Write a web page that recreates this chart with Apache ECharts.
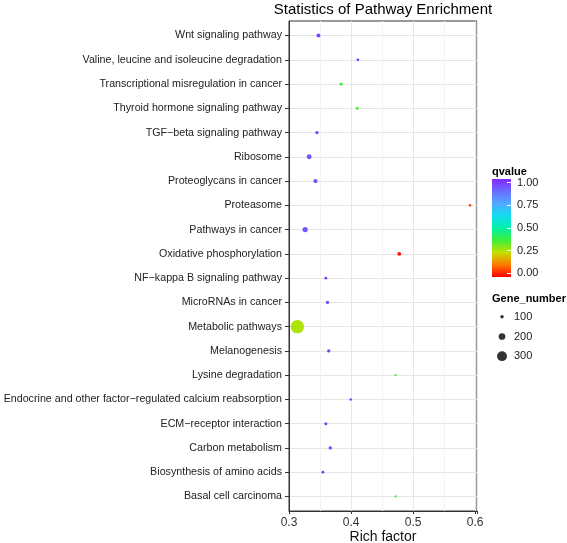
<!DOCTYPE html>
<html>
<head>
<meta charset="utf-8">
<script src="https://cdn.jsdelivr.net/npm/echarts@6/dist/echarts.min.js"></script>
<style>
html,body{margin:0;padding:0;background:#fff;}
#main{width:567px;height:543px;}
</style>
</head>
<body>
<div id="main"></div>
<script>
// ---- data ----
var pathways = [
  'Wnt signaling pathway',
  'Valine, leucine and isoleucine degradation',
  'Transcriptional misregulation in cancer',
  'Thyroid hormone signaling pathway',
  'TGF\u2212beta signaling pathway',
  'Ribosome',
  'Proteoglycans in cancer',
  'Proteasome',
  'Pathways in cancer',
  'Oxidative phosphorylation',
  'NF\u2212kappa B signaling pathway',
  'MicroRNAs in cancer',
  'Metabolic pathways',
  'Melanogenesis',
  'Lysine degradation',
  'Endocrine and other factor\u2212regulated calcium reabsorption',
  'ECM\u2212receptor interaction',
  'Carbon metabolism',
  'Biosynthesis of amino acids',
  'Basal cell carcinoma'
];
var richFactor = [0.3475, 0.411, 0.384, 0.410, 0.345, 0.3325, 0.3427, 0.5917, 0.326, 0.4777,
                  0.3594, 0.362, 0.3135, 0.364, 0.4718, 0.3994, 0.3594, 0.3665, 0.3546, 0.4718];
var qvalue = [0.95, 0.97, 0.38, 0.36, 0.95, 0.92, 0.92, 0.08, 0.92, 0.02,
              0.97, 0.93, 0.27, 0.96, 0.38, 0.97, 0.97, 0.95, 0.97, 0.38];
var geneNumber = [115, 75, 95, 85, 95, 145, 125, 70, 155, 115,
                  78, 95, 410, 95, 60, 70, 85, 95, 78, 60];
var xTicks = [0.3, 0.4, 0.5, 0.6];
var qTicks = [0, 0.25, 0.5, 0.75, 1];
var sizeLegend = [100, 200, 300];

// ---- styles ----
var rampColors = ['#ff0000', '#ff7a00', '#c4e000', '#3cf03c', '#00f0a8', '#12dcf0', '#50aaff', '#6a6cff', '#8428ff'];
function sizeOf(n) { return Math.max(2.2, 0.032 * n + 0.3); }

var points = pathways.map(function (p, i) {
  return [richFactor[i], i, qvalue[i], geneNumber[i]];
});

var gradStops = rampColors.map(function (c, i) {
  return { offset: 1 - i / (rampColors.length - 1), color: c };
});

var chart = echarts.init(document.getElementById('main'), null, { renderer: 'canvas' });
var FONT = 'Liberation Sans, Arial, sans-serif';
var catIdx = pathways.map(function (p, i) { return i; });

chart.setOption({
  animation: false,
  backgroundColor: '#ffffff',
  textStyle: { fontFamily: FONT },
  title: [
    { text: 'Statistics of Pathway Enrichment', left: 383, top: 2, textAlign: 'center', padding: 0,
      textStyle: { fontSize: 15, fontWeight: 'normal', color: '#000', fontFamily: FONT } },
    { text: 'qvalue', left: 492, top: 166, padding: 0,
      textStyle: { fontSize: 11, fontWeight: 'bold', color: '#000', fontFamily: FONT } },
    { text: 'Gene_number', left: 492, top: 293, padding: 0,
      textStyle: { fontSize: 11, fontWeight: 'bold', color: '#000', fontFamily: FONT, width: 90, overflow: 'none' } }
  ],
  grid: [
    { left: 289, right: 90, top: 21, bottom: 32, show: true, borderColor: '#333', borderWidth: 1,
      backgroundColor: '#fff', outerBoundsMode: 'none', containLabel: false },
    { left: 492, top: 179, width: 19, height: 98, show: true, borderWidth: 0, outerBoundsMode: 'none',
      backgroundColor: new echarts.graphic.LinearGradient(0, 0, 0, 1, gradStops) },
    { left: 497, top: 307, width: 10, height: 59, outerBoundsMode: 'none' }
  ],
  xAxis: [
    { type: 'value', gridIndex: 0, min: 0.3, max: 0.603, interval: 0.1,
      name: 'Rich factor', nameLocation: 'middle', nameGap: 19, nameMoveOverlap: false,
      nameTextStyle: { fontSize: 14, color: '#111', fontFamily: FONT, verticalAlign: 'top' },
      axisLine: { show: true, onZero: false, lineStyle: { color: '#333', width: 1 } },
      axisTick: { show: true, length: 3, lineStyle: { color: '#333' } },
      axisLabel: { fontSize: 12, color: '#333', margin: 6, fontFamily: FONT,
        customValues: xTicks, formatter: function (v) { return v.toFixed(1); } },
      splitLine: { show: true, lineStyle: { color: '#e6e6e6', width: 1 } },
      minorTick: { show: false, splitNumber: 2 },
      minorSplitLine: { show: true, lineStyle: { color: '#f3f3f3', width: 1 } } },
    { type: 'category', gridIndex: 1, data: [''], show: false },
    { type: 'value', gridIndex: 2, min: -1, max: 1, show: false }
  ],
  yAxis: [
    { type: 'value', gridIndex: 0, min: -0.6, max: 19.6, inverse: true,
      axisLine: { show: true, onZero: false, lineStyle: { color: '#333', width: 1 } },
      axisTick: { show: true, length: 4, customValues: catIdx, lineStyle: { color: '#333' } },
      axisLabel: { fontSize: 10.7, color: '#222', margin: 7, fontFamily: FONT, customValues: catIdx,
        formatter: function (v) { return pathways[Math.round(v)] || ''; } },
      splitLine: { show: true, lineStyle: { color: '#e6e6e6', width: 1 } } },
    { type: 'value', gridIndex: 1, min: -0.04, max: 1.04, position: 'right',
      axisLine: { show: false },
      axisTick: { show: true, inside: true, length: 4, customValues: qTicks, lineStyle: { color: '#fff', width: 1 } },
      axisLabel: { fontSize: 11, color: '#222', margin: 6, fontFamily: FONT, customValues: qTicks,
        formatter: function (v) { return v.toFixed(2); } },
      splitLine: { show: false } },
    { type: 'category', gridIndex: 2, inverse: true, position: 'right',
      data: sizeLegend.map(String),
      axisLine: { show: false }, axisTick: { show: false },
      axisLabel: { fontSize: 11, color: '#222', margin: 7, fontFamily: FONT },
      splitLine: { show: false } }
  ],
  visualMap: {
    type: 'continuous', show: false, seriesIndex: 0, dimension: 2,
    min: 0, max: 1, inRange: { color: rampColors }
  },
  series: [
    { type: 'scatter', xAxisIndex: 0, yAxisIndex: 0, data: points,
      symbolSize: function (v) { return sizeOf(v[3]); },
      itemStyle: { opacity: 1 } },
    { type: 'scatter', xAxisIndex: 2, yAxisIndex: 2,
      data: sizeLegend.map(function (n) { return [0, String(n), n]; }),
      symbolSize: function (v) { return sizeOf(v[2]); },
      itemStyle: { color: '#000' }, silent: true }
  ]
});
</script>
</body>
</html>
